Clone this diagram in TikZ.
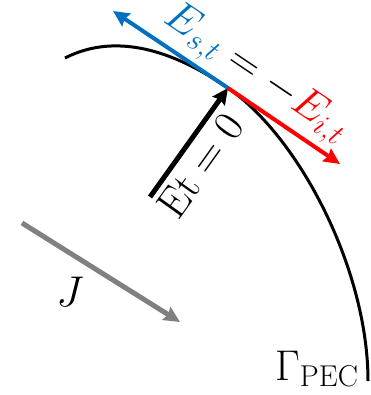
\documentclass[tikz,border=0pt]{standalone}
\usepackage{fix-cm}
\usepackage{amsmath}
\usepackage{tikz}
\usetikzlibrary{arrows.meta,calc}
\definecolor{tanblue} {HTML}{0070C0}
\definecolor{incred}  {HTML}{FF0000}
\definecolor{srcgray} {HTML}{808080}
\tikzset{
  >=stealth,
  % --- edges
  vec/.style = {-{Stealth[length=16pt,width=15pt,inset=2pt]}, line width=4pt},
  vs/.style  = {vec, draw=tanblue},
  vi/.style  = {vec, draw=incred},
  vt/.style  = {vec, draw=black, line width=5pt},
  vj/.style  = {vec, draw=srcgray, line width=5pt},
  bnd/.style = {line width=3pt, draw=black},
  % --- labels
  lbl/.style = {font=\fontsize{43}{50}\selectfont, inner sep=0pt},
}

\begin{document}
\begin{tikzpicture}[x=1pt,y=-1pt]
  \useasboundingbox (0,0) rectangle (370,395);
  \coordinate (o)  at (228,88);
  \coordinate (s)  at (113,11);
  \coordinate (i)  at (340,164);
  \coordinate (t0) at (150,197);
  \coordinate (j0) at (22,223);
  \coordinate (j1) at (180,322);
  % PEC boundary
  \draw[bnd] (65,58) .. controls (120,30) and (180,55) .. (o)
                     .. controls (300,138) and (368,270) .. (368,381);
  \draw[vt] (t0) -- (o);
  \draw[vs] (o) -- (s);
  \draw[vi] (o) -- (i);
  \draw[vj] (j0) -- (j1);
  \node[lbl, rotate=-34, anchor=base] (bc) at (251,81.5)
    {$\textcolor{tanblue}{E_{s,t}} = -\textcolor{incred}{E_{i,t}}$};
  \node[lbl, rotate=54.4, anchor=base] (et) at (212,174) {$\mathrm{Et} = 0$};
  \node[lbl] (jl) at (70,292) {$J$};
  \node[lbl, anchor=base west] (gam) at (275,380) {$\Gamma_{\mathrm{PEC}}$};
\end{tikzpicture}
\end{document}
